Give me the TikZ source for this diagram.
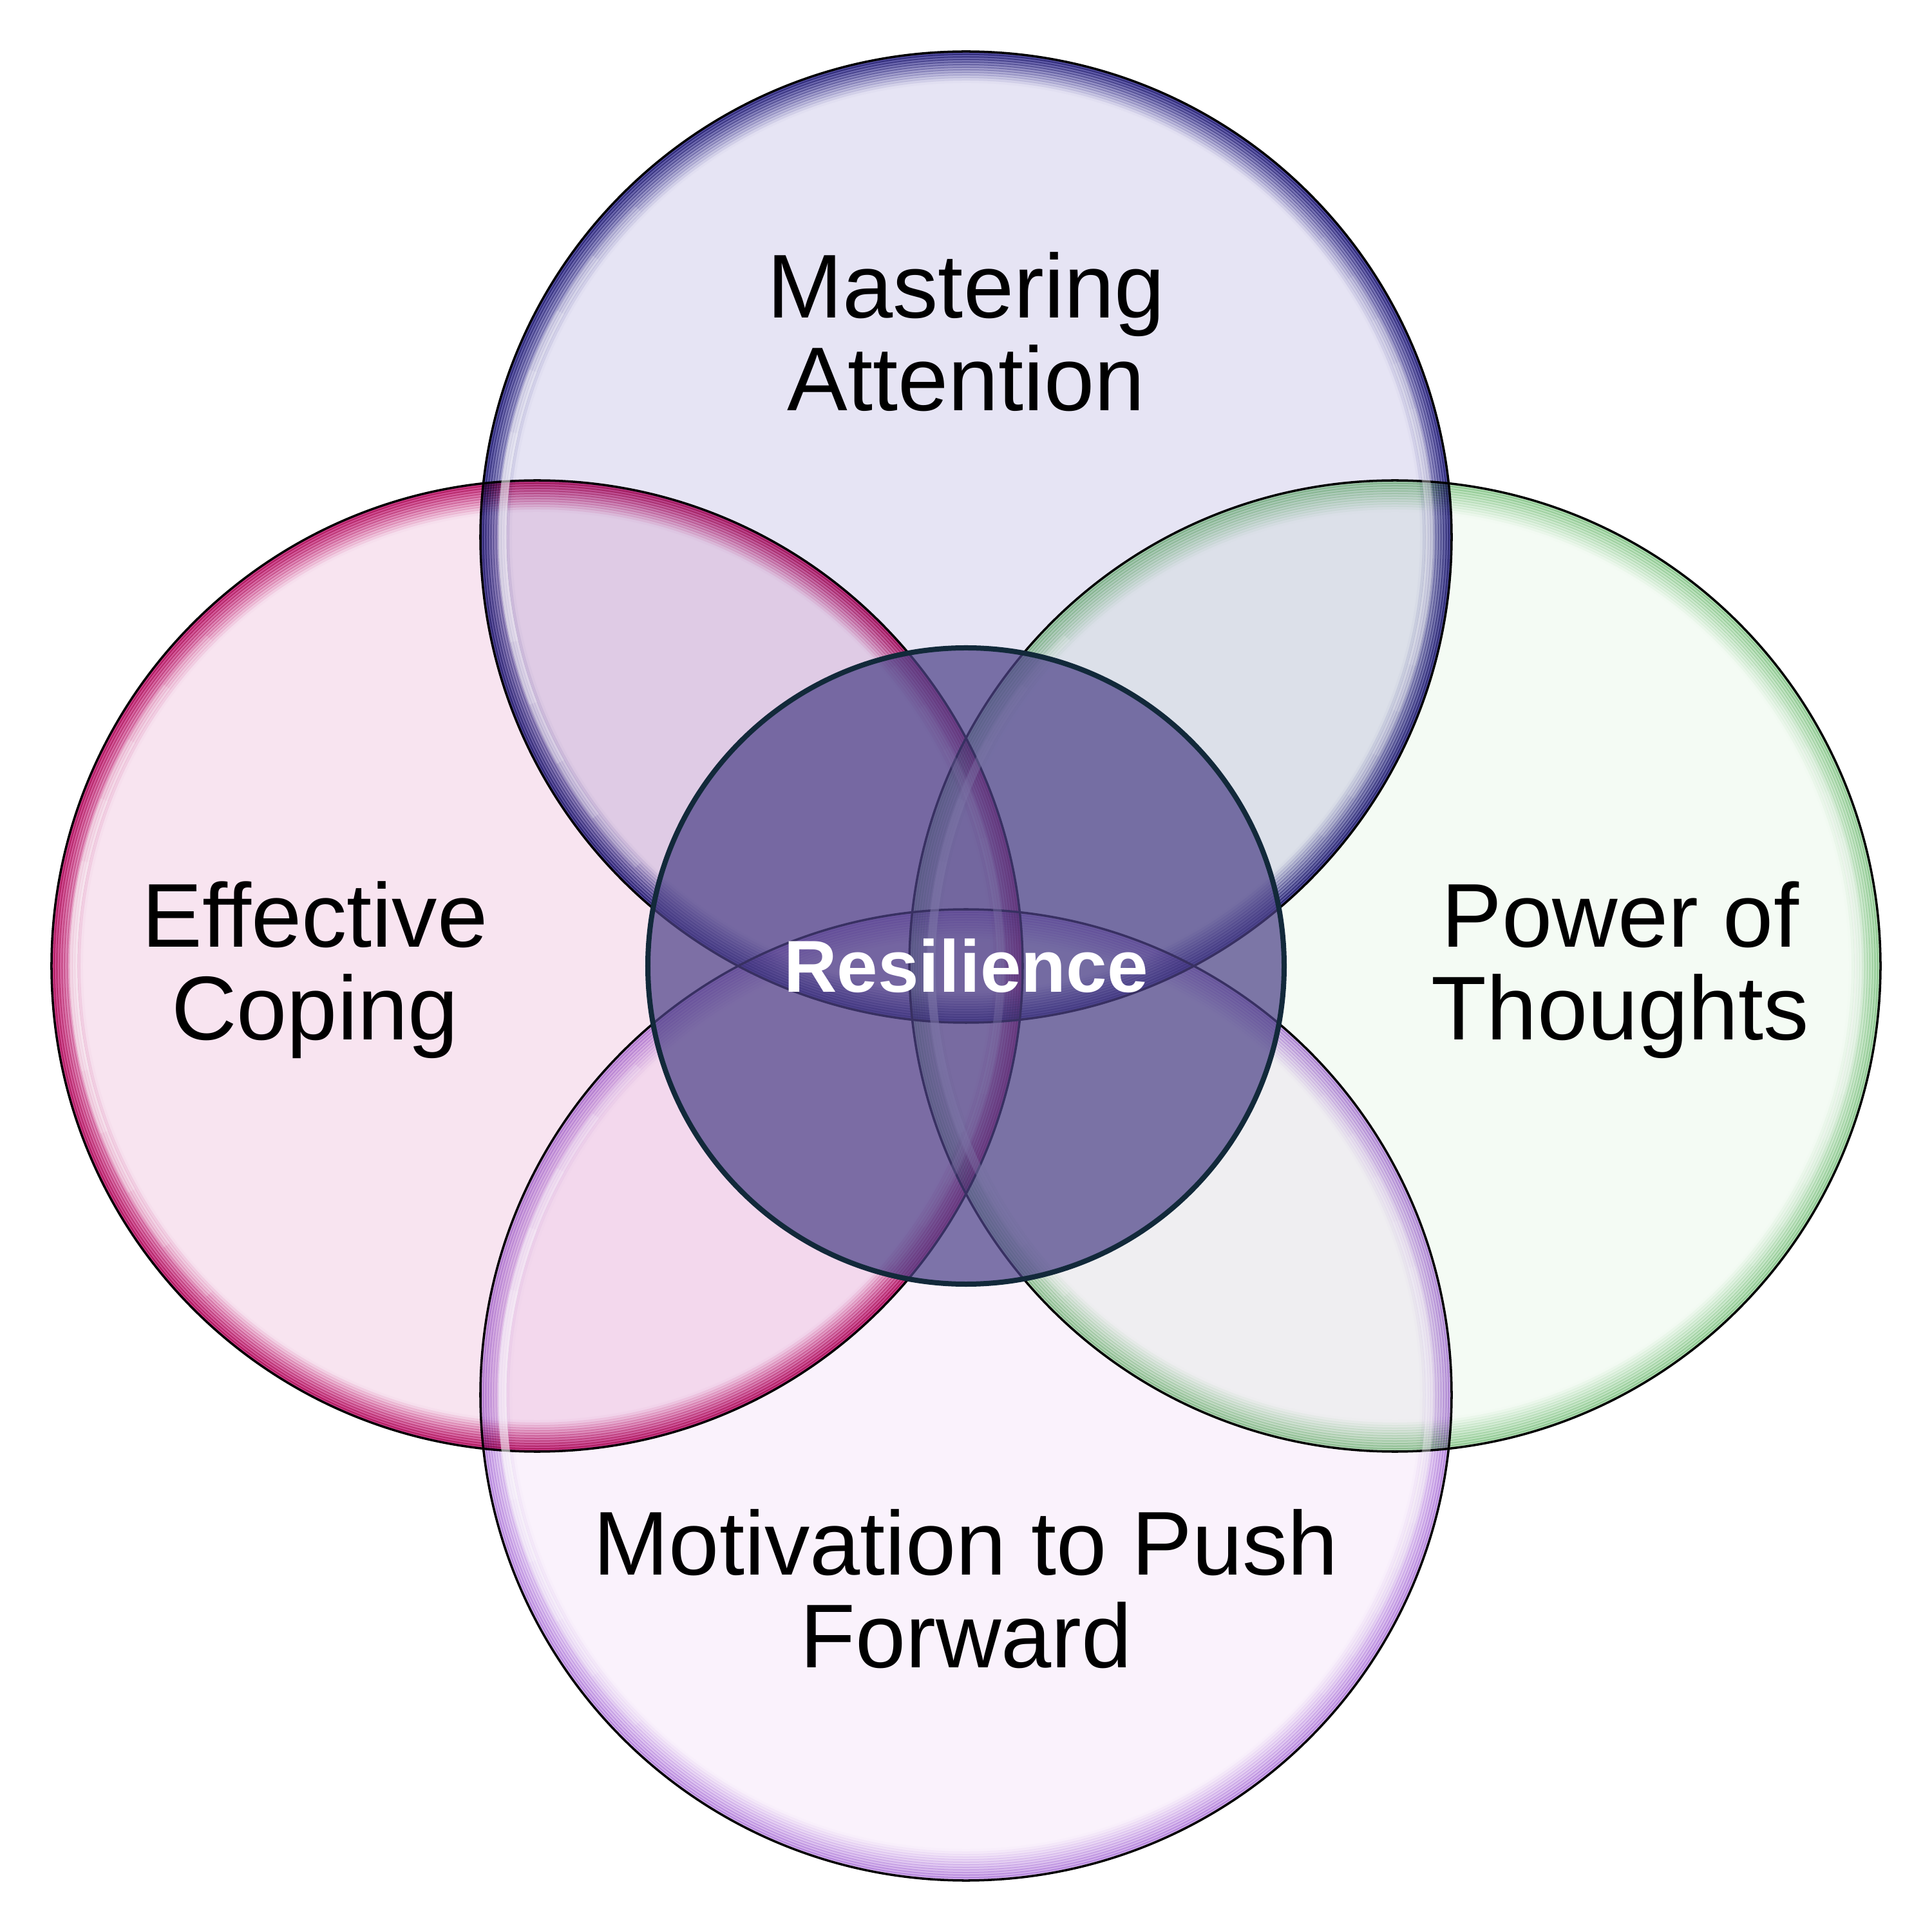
\documentclass[tikz,border=0pt]{standalone}
\usepackage{fontspec}
\setmainfont{Liberation Sans}
\definecolor{attfill}{HTML}{E6E4F4}
\definecolor{attrim}{HTML}{3B3594}
\definecolor{copfill}{HTML}{F8E4F0}
\definecolor{coprim}{HTML}{C71E7A}
\definecolor{powfill}{HTML}{F4FBF4}
\definecolor{powrim}{HTML}{A8D8AA}
\definecolor{motfill}{HTML}{FAF2FC}
\definecolor{motrim}{HTML}{C8A2E8}
\definecolor{resfill}{HTML}{4E4389}
\definecolor{resline}{HTML}{12293A}
\newcommand{\rad}{7.54}

\begin{document}
\begin{tikzpicture}[
    lbl/.style={align=center, font=\fontsize{40}{41}\selectfont},
    ring/.style={line width=0.05cm},
    gloss/.style={white, line width=0.13cm, opacity=0.16}]
  \useasboundingbox (-15,-15) rectangle (15,15);
  \coordinate (att) at (0, 6.66);
  \coordinate (cop) at (-6.66, 0);
  \coordinate (pow) at (6.66, 0);
  \coordinate (mot) at (0, -6.66);
  \coordinate (res) at (0, 0);
  % the four outer circles, mixed like ink
  \begin{scope}[blend mode=multiply]
    \foreach \ctr/\fc/\rim in {att/attfill/attrim, cop/copfill/coprim,
        pow/powfill/powrim, mot/motfill/motrim} {
      \fill[\fc] (\ctr) circle (\rad);
      \foreach \k [evaluate=\k as \op using 0.85-0.075*\k] in {0,...,11}
        \draw[ring, draw=\rim, draw opacity=\op] (\ctr) circle ({\rad-0.025-0.04*\k});
      \draw[line width=1pt] (\ctr) circle (\rad);
    }
  \end{scope}
  % glossy highlights
  \foreach \ctr in {att, cop, pow, mot} {
    \foreach \s in {0,...,4} {
      \draw[gloss] (\ctr) ++({135+8*\s}:7.2)
        arc[start angle={135+8*\s}, end angle={225-8*\s}, radius=7.2];
      \draw[gloss, opacity=0.09] (\ctr) ++({-40+6*\s}:7.2)
        arc[start angle={-40+6*\s}, end angle={40-6*\s}, radius=7.2];
    }
  }
  \draw[line width=0.08cm, draw=resline, fill=resfill, fill opacity=0.72]
    (res) circle (4.94);
  \node[lbl] (attl) at (0, 9.85) {Mastering\\Attention};
  \node[lbl] (copl) at (-10.11, -0.06) {Effective\\Coping};
  \node[lbl] (powl) at (10.16, -0.06) {Power of\\Thoughts};
  \node[lbl] (motl) at (0, -9.67) {Motivation to Push\\Forward};
  \node[font=\fontsize{32.5}{36}\selectfont\bfseries, text=white] (resl) at (res) {Resilience};
\end{tikzpicture}
\end{document}
